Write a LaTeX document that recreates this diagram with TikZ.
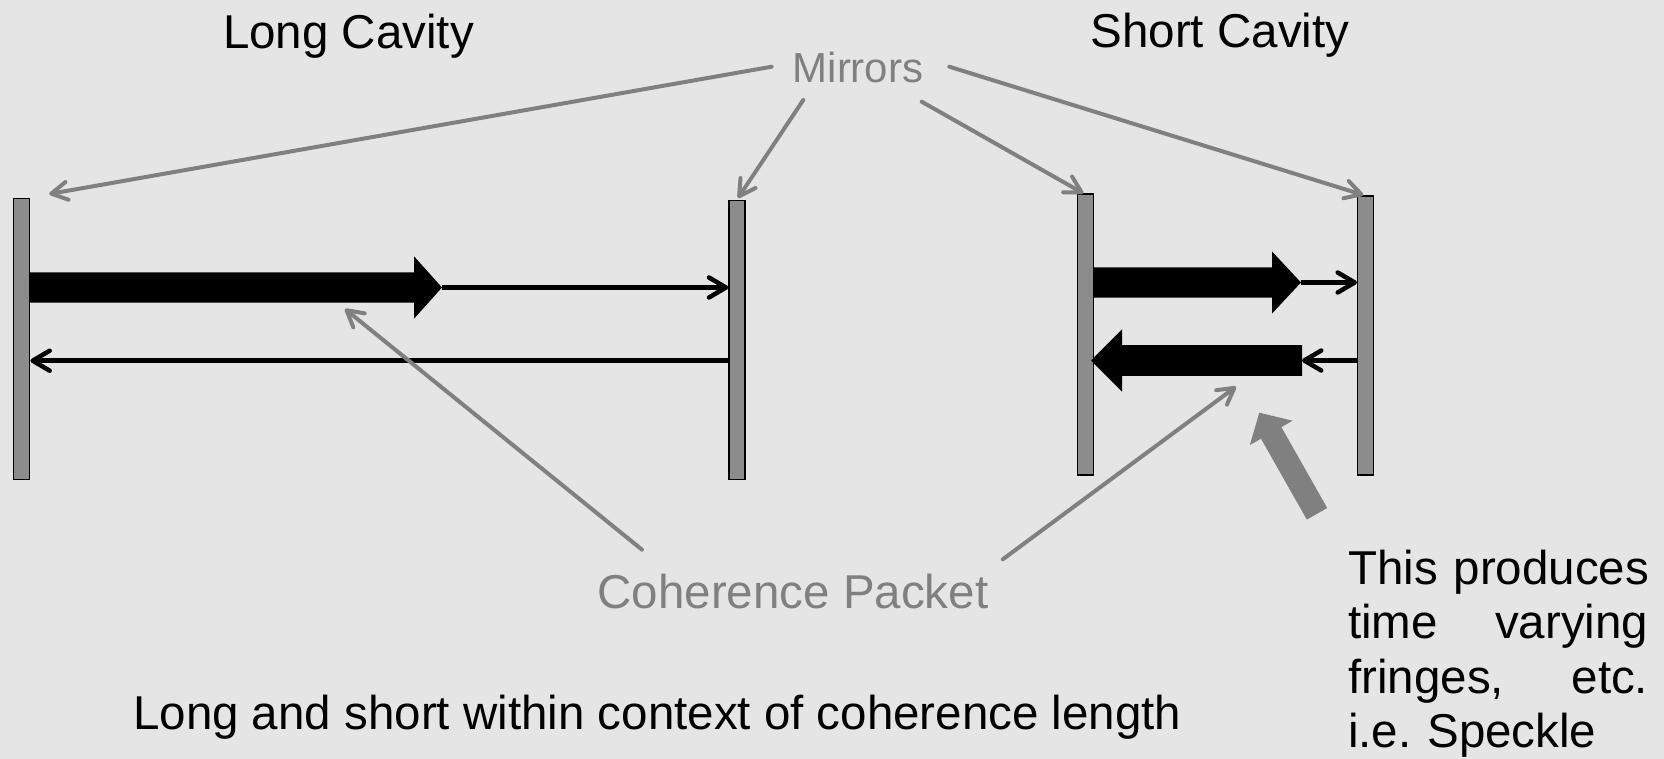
\documentclass[tikz,border=0pt]{standalone}
\usepackage{fontspec}
\setmainfont{Liberation Sans}
\usetikzlibrary{arrows.meta}
\definecolor{bgcol}{RGB}{229,229,229}
\definecolor{mirrorgray}{RGB}{140,140,140}
\definecolor{linegray}{RGB}{128,128,128}
\begin{document}
\begin{tikzpicture}[x=1pt,y=-1pt,
  mirrorbox/.style={draw=black, line width=1.5pt, fill=mirrorgray, inner sep=0pt, minimum width=16pt},
  rayarrow/.style={draw=black, line width=4.5pt, -{Straight Barb[length=17pt,width=20pt,round]}},
  pointerline/.style={draw=linegray, line width=4pt, line cap=round, -{Straight Barb[length=16pt,width=18pt,round]}},
  blockfill/.style={fill=black},
  bigtxt/.style={inner sep=0pt, font=\fontsize{47.5}{54.5}\selectfont},
  graytxt/.style={bigtxt, text=linegray}]
% background and bounds
\fill[bgcol] (0,0) rectangle (1664,759);
\useasboundingbox (0,0) rectangle (1664,759);

% mirrors
\node[mirrorbox, minimum height=281pt] (L1) at (21.7,339) {};
\node[mirrorbox, minimum height=279pt] (L2) at (737,340) {};
\node[mirrorbox, minimum height=281pt] (S1) at (1085.3,334.5) {};
\node[mirrorbox, minimum height=279pt] (S2) at (1365.7,335.5) {};

% long cavity
\fill[blockfill] (29,272.3) -- (414,272.3) -- (414,256.3) -- (442,287.5) -- (414,318.7) -- (414,302.7) -- (29,302.7) -- cycle;
\coordinate (A1) at (442,287.5);
\draw[rayarrow] (A1) -- (L2.west |- A1);
\coordinate (r1) at (0,360.7);
\draw[rayarrow] (L2.west |- r1) -- (L1.east |- r1);

% short cavity
\fill[blockfill] (1093,267.3) -- (1272,267.3) -- (1272,251.5) -- (1301,282.5) -- (1272,313.5) -- (1272,297.7) -- (1093,297.7) -- cycle;
\coordinate (A2) at (1301,282.5);
\draw[rayarrow] (A2) -- (S2.west |- A2);
\fill[blockfill] (1302,345.2) -- (1122,345.2) -- (1122,329.3) -- (1091,360.5) -- (1122,391.7) -- (1122,375.8) -- (1302,375.8) -- cycle;
\coordinate (B2) at (1302,360.5);
\draw[rayarrow] (S2.west |- B2) -- (B2);

% big gray arrow
\fill[linegray] (1306.8,519.6) -- (1261.0,438.7) -- (1249.8,445.1) -- (1259.3,412.7) -- (1292.6,420.7) -- (1281.4,427.1) -- (1327.2,508.0) -- cycle;

% texts
\node[bigtxt, anchor=base] (lc) at (348.5,49) {Long Cavity};
\node[bigtxt, anchor=base] (sc) at (1220,48) {Short Cavity};
\node[inner sep=0pt, text=linegray, font=\fontsize{42}{50}\selectfont, anchor=base] (mir) at (858,83) {Mirrors};
\node[graytxt, anchor=base] (coh) at (793,608) {Coherence Packet};
\node[bigtxt, anchor=base west] (bot) at (133,729) {Long and short within context of coherence length};
\node[bigtxt, anchor=base west, text width=300pt, align=left] (note) at (1348,584)
  {\mbox{This produces}\\ time\hfill varying\\ fringes,\hfill etc.\\ i.e.\ Speckle};

% mirror pointers
\coordinate (m1) at (771.7,66.7);
\coordinate (m2) at (803.3,100);
\coordinate (m3) at (921.7,101.7);
\coordinate (m4) at (949.3,66.7);
\coordinate (t1) at (49.3,194);
\coordinate (t2) at (738,198);
\coordinate (t3) at (1083.3,193.3);
\coordinate (t4) at (1363.3,195);
\draw[pointerline] (m1) -- (t1);
\draw[pointerline] (m2) -- (t2);
\draw[pointerline] (m3) -- (t3);
\draw[pointerline] (m4) -- (t4);

% coherence pointers
\coordinate (c1) at (642,549.7);
\coordinate (c2) at (1002.8,559.3);
\coordinate (p1) at (345,309);
\coordinate (p2) at (1236,386.7);
\draw[pointerline] (c1) -- (p1);
\draw[pointerline] (c2) -- (p2);
\end{tikzpicture}
\end{document}
